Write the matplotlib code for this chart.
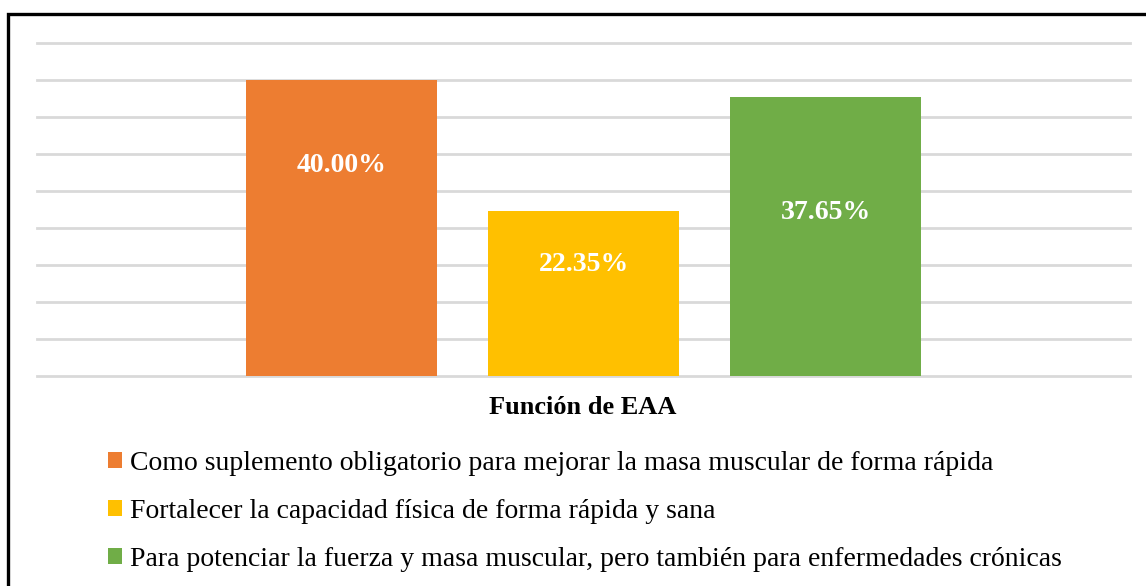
import matplotlib.pyplot as plt
from matplotlib.patches import Rectangle

categories = ['Como suplemento obligatorio para mejorar la masa muscular de forma rápida',
              'Fortalecer la capacidad física de forma rápida y sana',
              'Para potenciar la fuerza y masa muscular, pero también para enfermedades crónicas']
values = [40.00, 22.35, 37.65]
value_labels = ['40.00%', '22.35%', '37.65%']
colors = ['#ED7D31', '#FFC000', '#70AD47']
axis_title = 'Función de EAA'

# where Excel dropped the data labels (in % units)
label_y = [28.4, 15.1, 22.1]

plt.rcParams['font.family'] = ['Liberation Serif', 'DejaVu Serif']

fig = plt.figure(figsize=(11.46, 5.86), dpi=100)
W, H = 1146, 586
ax = fig.add_axes([37 / W, 1 - 376 / H, 1093 / W, 333 / H])

x = range(len(values))
for i in x:
    ax.bar(i, values[i], width=191 / 242, color=colors[i], label=categories[i], zorder=2)
    ax.text(i, label_y[i], value_labels[i], ha='center', va='center',
            color='white', fontsize=20, fontweight='bold', zorder=3)

ax.set_xlim(-1.258, 3.258)
ax.set_ylim(0, 45)
ax.set_yticks(range(0, 46, 5))
ax.yaxis.grid(True, color='#d9d9d9', linewidth=2)
for gl in ax.get_ygridlines():
    gl.set_clip_on(False)
ax.set_axisbelow(True)
ax.tick_params(left=False, bottom=False, labelleft=False, labelbottom=False)
for s in ax.spines.values():
    s.set_visible(False)

fig.text(583 / W, 1 - 408 / H, axis_title, ha='center', va='center',
         fontsize=19, fontweight='bold')

fig.legend(loc='upper left', bbox_to_anchor=(108 / W, 1 - 451 / H), frameon=False,
           fontsize=20, handlelength=0.52, handleheight=0.52, handletextpad=0.26,
           labelspacing=0.82, borderpad=0, borderaxespad=0)

# outer chart frame (bottom and right run off the crop)
fig.patches.append(Rectangle((7.5 / W, -0.05), 1.1, 1 - 13.5 / H + 0.05,
                             transform=fig.transFigure, fill=False,
                             edgecolor='black', linewidth=2.4))

fig.savefig('out.png', dpi=100)
